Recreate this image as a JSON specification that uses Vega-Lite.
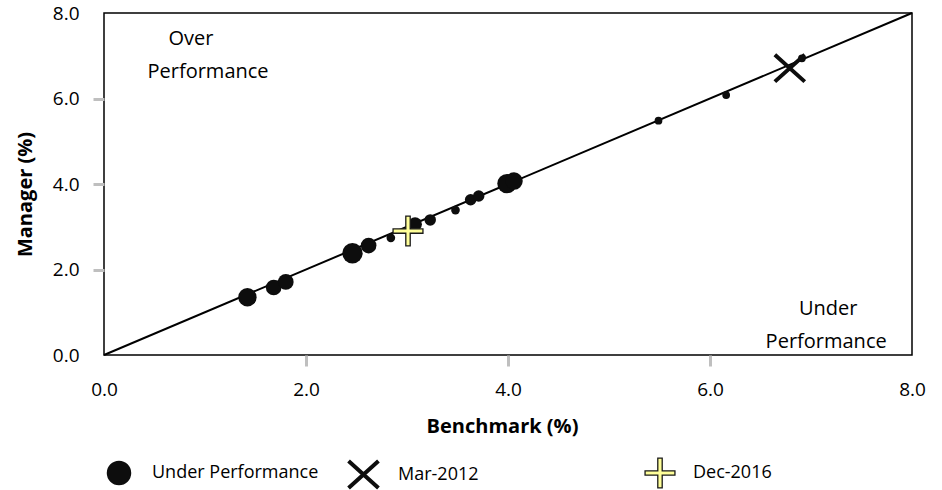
{
  "$schema": "https://vega.github.io/schema/vega-lite/v6.json",
  "width": 808,
  "height": 342,
  "autosize": "none",
  "padding": {"left": 104, "top": 13, "right": 30, "bottom": 135},
  "background": "white",
  "config": {
    "font": "Open Sans",
    "view": {"stroke": "#000000", "strokeWidth": 1.5},
    "axis": {
      "grid": false,
      "domain": false,
      "labelFont": "Open Sans",
      "labelFontSize": 19,
      "labelColor": "#000000",
      "titleFont": "Open Sans",
      "titleFontSize": 20,
      "titleFontWeight": "bold",
      "titleColor": "#000000",
      "tickColor": "#BFBFBF",
      "tickWidth": 3,
      "tickSize": 11,
      "labelPadding": 14
    },
    "legend": {
      "orient": "none",
      "legendY": 447,
      "direction": "horizontal",
      "symbolSize": 600,
      "labelFont": "Open Sans",
      "labelFontSize": 18,
      "labelColor": "#000000",
      "labelOffset": 20,
      "labelLimit": 400,
      "padding": 0
    }
  },
  "resolve": {
    "scale": {"shape": "independent", "fill": "independent", "stroke": "independent", "strokeWidth": "independent"},
    "legend": {"shape": "independent", "fill": "independent", "stroke": "independent", "strokeWidth": "independent"}
  },
  "datasets": {
    "points": [
      {"benchmark": 1.42, "manager": 1.35, "weight": 3.6, "series": "Under Performance"},
      {"benchmark": 1.68, "manager": 1.58, "weight": 2.6, "series": "Under Performance"},
      {"benchmark": 1.80, "manager": 1.71, "weight": 2.6, "series": "Under Performance"},
      {"benchmark": 2.46, "manager": 2.38, "weight": 4.4, "series": "Under Performance"},
      {"benchmark": 2.62, "manager": 2.56, "weight": 2.6, "series": "Under Performance"},
      {"benchmark": 2.84, "manager": 2.74, "weight": 0.8, "series": "Under Performance"},
      {"benchmark": 3.08, "manager": 3.06, "weight": 2.0, "series": "Under Performance"},
      {"benchmark": 3.23, "manager": 3.16, "weight": 1.4, "series": "Under Performance"},
      {"benchmark": 3.48, "manager": 3.39, "weight": 0.8, "series": "Under Performance"},
      {"benchmark": 3.63, "manager": 3.63, "weight": 1.4, "series": "Under Performance"},
      {"benchmark": 3.71, "manager": 3.72, "weight": 1.4, "series": "Under Performance"},
      {"benchmark": 3.99, "manager": 4.01, "weight": 4.0, "series": "Under Performance"},
      {"benchmark": 4.06, "manager": 4.07, "weight": 3.2, "series": "Under Performance"},
      {"benchmark": 5.49, "manager": 5.48, "weight": 0.64, "series": "Under Performance"},
      {"benchmark": 6.16, "manager": 6.08, "weight": 0.64, "series": "Under Performance"},
      {"benchmark": 6.91, "manager": 6.94, "weight": 0.64, "series": "Under Performance"},
      {"benchmark": 6.79, "manager": 6.71, "weight": null, "series": "Mar-2012"},
      {"benchmark": 3.01, "manager": 2.90, "weight": null, "series": "Dec-2016"}
    ],
    "diag": [
      {"benchmark": 0, "manager": 0},
      {"benchmark": 8, "manager": 8}
    ],
    "notes": [
      {"benchmark": 0.86, "manager": 7.40, "label": "Over"},
      {"benchmark": 1.03, "manager": 6.62, "label": "Performance"},
      {"benchmark": 7.17, "manager": 1.07, "label": "Under"},
      {"benchmark": 7.15, "manager": 0.30, "label": "Performance"}
    ]
  },
  "encoding": {
    "x": {
      "field": "benchmark",
      "type": "quantitative",
      "scale": {"domain": [0, 8], "nice": false, "zero": false},
      "axis": {
        "title": "Benchmark (%)",
        "values": [0, 2, 4, 6, 8],
        "format": ".1f",
        "labelFlush": false,
        "titlePadding": 17,
        "titleX": 398,
        "tickOpacity": {"condition": {"test": "datum.value == 0 || datum.value == 8", "value": 0}, "value": 1}
      }
    },
    "y": {
      "field": "manager",
      "type": "quantitative",
      "scale": {"domain": [0, 8], "nice": false, "zero": false},
      "axis": {
        "title": "Manager (%)",
        "values": [0, 2, 4, 6, 8],
        "format": ".1f",
        "titlePadding": 17,
        "titleY": 181,
        "tickOpacity": {"condition": {"test": "datum.value == 0 || datum.value == 8", "value": 0}, "value": 1}
      }
    }
  },
  "layer": [
    {
      "data": {"name": "diag"},
      "mark": {"type": "line", "color": "#000000", "strokeWidth": 2},
      "encoding": {}
    },
    {
      "data": {"name": "points"},
      "transform": [{"filter": "datum.series === 'Under Performance'"}],
      "mark": {"type": "point", "filled": true, "opacity": 1, "strokeWidth": 0},
      "encoding": {
        "shape": {"field": "series", "type": "nominal", "scale": {"domain": ["Under Performance"], "range": ["circle"]}, "legend": {"title": null, "legendX": 2}},
        "fill": {"field": "series", "type": "nominal", "scale": {"domain": ["Under Performance"], "range": ["#0d0d0d"]}, "legend": {"title": null, "legendX": 2}},
        "size": {"field": "weight", "type": "quantitative", "scale": {"domain": [0, 5], "range": [0, 470]}, "legend": null}
      }
    },
    {
      "data": {"name": "points"},
      "transform": [{"filter": "datum.series === 'Mar-2012'"}],
      "mark": {"type": "point", "filled": true, "opacity": 1, "size": 600},
      "encoding": {
        "shape": {"field": "series", "type": "nominal", "scale": {"domain": ["Mar-2012"], "range": ["M-1.22,-1.1L1.22,1.1M-1.22,1.1L1.22,-1.1"]}, "legend": {"title": null, "legendX": 245}},
        "fill": {"field": "series", "type": "nominal", "scale": {"domain": ["Mar-2012"], "range": ["#0d0d0d"]}, "legend": {"title": null, "legendX": 245}},
        "stroke": {"field": "series", "type": "nominal", "scale": {"domain": ["Mar-2012"], "range": ["#0d0d0d"]}, "legend": {"title": null, "legendX": 245}},
        "strokeWidth": {"field": "series", "type": "nominal", "scale": {"type": "point", "padding": 0, "domain": ["Mar-2012"], "range": [4, 4]}, "legend": {"title": null, "legendX": 245}}
      }
    },
    {
      "data": {"name": "points"},
      "transform": [{"filter": "datum.series === 'Dec-2016'"}],
      "mark": {"type": "point", "filled": true, "opacity": 1, "size": 600},
      "encoding": {
        "shape": {"field": "series", "type": "nominal", "scale": {"domain": ["Dec-2016"], "range": ["M-1.22,-0.18L-0.18,-0.18L-0.18,-1.22L0.18,-1.22L0.18,-0.18L1.22,-0.18L1.22,0.18L0.18,0.18L0.18,1.22L-0.18,1.22L-0.18,0.18L-1.22,0.18Z"]}, "legend": {"title": null, "legendX": 543}},
        "fill": {"field": "series", "type": "nominal", "scale": {"domain": ["Dec-2016"], "range": ["#FFFF99"]}, "legend": {"title": null, "legendX": 543}},
        "stroke": {"field": "series", "type": "nominal", "scale": {"domain": ["Dec-2016"], "range": ["#1a1a1a"]}, "legend": {"title": null, "legendX": 543}},
        "strokeWidth": {"field": "series", "type": "nominal", "scale": {"type": "point", "padding": 0, "domain": ["Dec-2016"], "range": [1.3, 1.3]}, "legend": {"title": null, "legendX": 543}}
      }
    },
    {
      "data": {"name": "notes"},
      "mark": {"type": "text", "font": "Open Sans", "fontSize": 20, "align": "center", "baseline": "middle", "color": "#000000"},
      "encoding": {"text": {"field": "label"}}
    }
  ]
}
